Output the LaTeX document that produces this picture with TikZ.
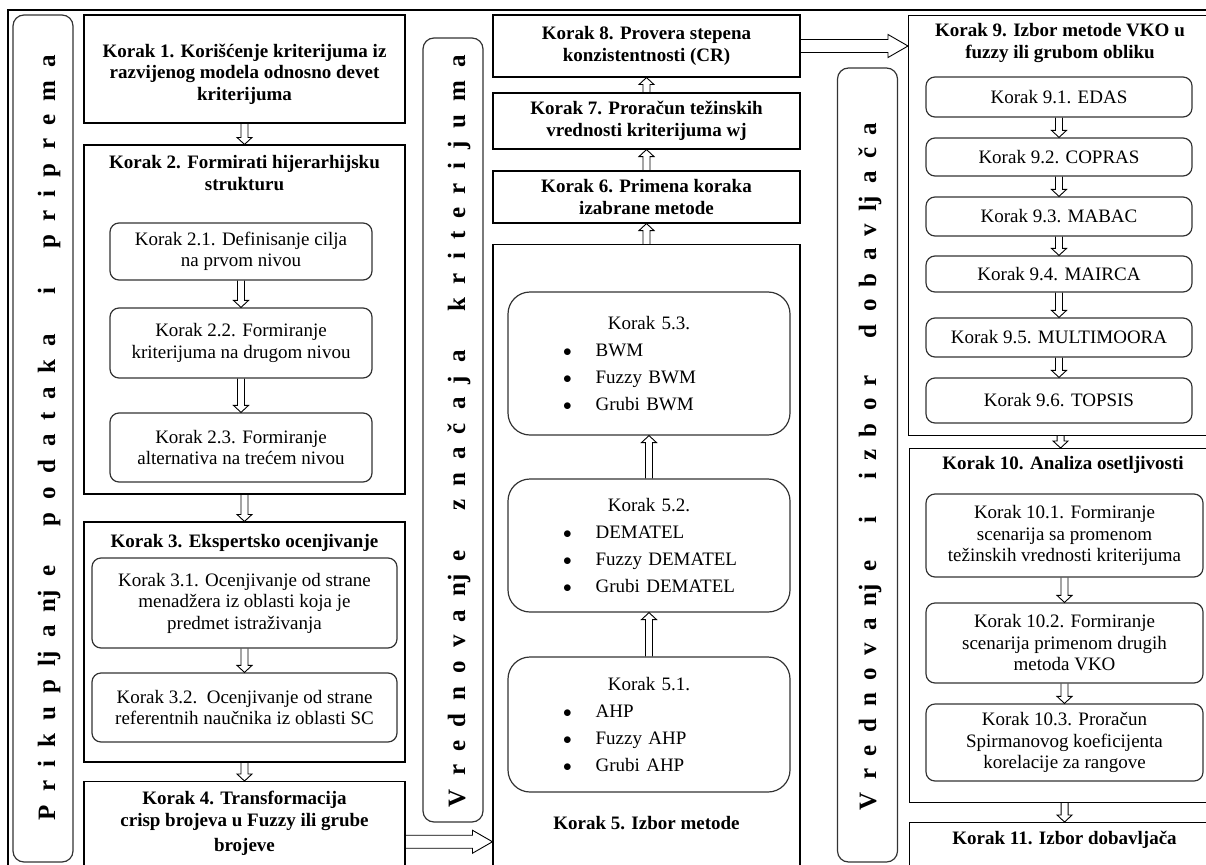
\documentclass[tikz,border=0pt]{standalone}
\usepackage{fontspec}
\setmainfont{Liberation Serif}
\usetikzlibrary{calc,positioning}
\newcommand{\lgap}{\hskip 0pt plus 1fil\relax}
\newcommand{\wgap}{\hskip 0pt plus 3fil\relax}
\newcommand{\spreadtext}[2]{\makebox[#1][s]{#2}}
\newcommand{\methodlist}[4]{{\centering #1\par}\leftskip=45pt\relax
  $\bullet$\hspace{24pt}#2\par$\bullet$\hspace{24pt}#3\par$\bullet$\hspace{24pt}#4\par}
\tikzset{
  blockarrow/.style n args={3}{draw,line width=0.9pt,to path={
    let \p1=(\tikztostart),\p2=(\tikztotarget),
        \n1={atan2(\y2-\y1,\x2-\x1)},\n2={veclen(\x2-\x1,\y2-\y1)-#3} in
    ([shift={(\p1)},rotate=\n1]0pt,-#1) -- ([shift={(\p1)},rotate=\n1]\n2,-#1)
    -- ([shift={(\p1)},rotate=\n1]\n2,-#2) -- (\p2)
    -- ([shift={(\p1)},rotate=\n1]\n2,#2) -- ([shift={(\p1)},rotate=\n1]\n2,#1)
    -- ([shift={(\p1)},rotate=\n1]0pt,#1)}},
  hollow/.style={blockarrow={3.5pt}{7.5pt}{7pt}},
  bighollow/.style={blockarrow={6.5pt}{11.5pt}{20pt}}
}

\begin{document}
\begin{tikzpicture}[x=1pt,y=-1pt,
    every node/.style={font=\fontsize{19}{21.5}\selectfont,align=center},
    kbox/.style={draw,line width=1.1pt,inner sep=3pt,
                 font=\fontsize{19}{21.5}\selectfont\bfseries},
    ktitle/.style={font=\fontsize{19}{21.5}\selectfont\bfseries},
    subbox/.style={draw=black!80,line width=1.2pt,rounded corners=9pt,inner sep=2pt},
    mbox/.style={subbox,rounded corners=22pt,align=left,text width=262pt,
                 inner xsep=10pt,font=\fontsize{19}{27}\selectfont},
    sidebox/.style={draw=black!80,line width=1.2pt,rounded corners=11pt,
                    minimum width=60pt},
    sidetext/.style={rotate=90,inner sep=0pt,text height=12pt,text depth=0pt,
                     font=\fontsize{25}{25}\selectfont\bfseries}
]
\useasboundingbox (0,0) rectangle (1206,864);
\clip (0,0) rectangle (1206,864);
\draw[line width=1.5pt] (8,10) rectangle (1240,900);

% first column
\node[sidebox,minimum height=847pt] (prepbox) at (43,438.5) {};
\node[sidetext] (prep) at (49,437.5) {\spreadtext{765pt}{P\lgap r\lgap i\lgap k\lgap u\lgap p\lgap lj\lgap a\lgap nj\lgap e\wgap p\lgap o\lgap d\lgap a\lgap t\lgap a\lgap k\lgap a\wgap i\wgap p\lgap r\lgap i\lgap p\lgap r\lgap e\lgap m\lgap a}};

\node[kbox,minimum width=321pt,minimum height=108pt] (k1) at (244.5,69) {\rule{0pt}{24pt}Korak 1. Korišćenje kriterijuma iz\\razvijenog modela odnosno devet\\kriterijuma};
\node[kbox,minimum width=321pt,minimum height=349pt] (k2) at (244.5,319.5) {};
\node[ktitle] (k2t) at (244.5,173) {Korak 2. Formirati hijerarhijsku\\strukturu};
\node[subbox,minimum width=262pt,minimum height=57pt] (k21) at (241,251.5) {Korak 2.1. Definisanje cilja\\na prvom nivou};
\node[subbox,minimum width=262pt,minimum height=70pt] (k22) at (241,343) {Korak 2.2. Formiranje\\kriterijuma na drugom nivou};
\node[subbox,minimum width=262pt,minimum height=69pt] (k23) at (241,447.5) {Korak 2.3. Formiranje\\alternativa na trećem nivou};
\node[kbox,minimum width=321pt,minimum height=240pt] (k3) at (244.5,642) {};
\node[ktitle] (k3t) at (244.5,543) {Korak 3. Ekspertsko ocenjivanje};
\node[subbox,minimum width=305pt,minimum height=90pt] (k31) at (244.5,603) {Korak 3.1. Ocenjivanje od strane\\menadžera iz oblasti koja je\\predmet istraživanja};
\node[subbox,minimum width=305pt,minimum height=69pt] (k32) at (244.5,707.5) {Korak 3.2.\ \ Ocenjivanje od strane\\referentnih naučnika iz oblasti SC};
\node[kbox,minimum width=321pt,anchor=north,inner ysep=10pt,text depth=40pt] (k4) at (244.5,781) {Korak 4. Transformacija\\crisp brojeva u Fuzzy ili grube\\[4pt]brojeve};

% second column
\node[sidebox,minimum height=784pt] (critbox) at (453,430) {};
\node[sidetext] (crit) at (459,431) {\spreadtext{752pt}{V\lgap r\lgap e\lgap d\lgap n\lgap o\lgap v\lgap a\lgap nj\lgap e\wgap z\lgap n\lgap a\lgap č\lgap a\lgap j\lgap a\wgap k\lgap r\lgap i\lgap t\lgap e\lgap r\lgap i\lgap j\lgap u\lgap m\lgap a}};

\node[kbox,minimum width=307pt,minimum height=62pt] (k8) at (646.5,46) {Korak 8. Provera stepena\\konzistentnosti (CR)};
\node[kbox,minimum width=307pt,minimum height=56pt] (k7) at (646.5,121) {Korak 7. Proračun težinskih\\vrednosti kriterijuma wj};
\node[kbox,minimum width=307pt,minimum height=52pt] (k6) at (646.5,197) {Korak 6. Primena koraka\\izabrane metode};
\node[kbox,minimum width=307pt,minimum height=660pt,anchor=north] (k5) at (646.5,244) {};
\node[ktitle] (k5t) at (646.5,823) {Korak 5. Izbor metode};
\node[mbox,minimum height=143pt] (k53) at (649,363.5) {\methodlist{Korak 5.3.}{BWM}{Fuzzy BWM}{Grubi BWM}};
\node[mbox,minimum height=133pt] (k52) at (649,545.5) {\methodlist{Korak 5.2.}{DEMATEL}{Fuzzy DEMATEL}{Grubi DEMATEL}};
\node[mbox,minimum height=135pt] (k51) at (649,724.5) {\methodlist{Korak 5.1.}{AHP}{Fuzzy AHP}{Grubi AHP}};

% third column
\node[sidebox,minimum height=794pt] (selbox) at (867.5,465) {};
\node[sidetext] (sel) at (870,466.5) {\spreadtext{687pt}{V\lgap r\lgap e\lgap d\lgap n\lgap o\lgap v\lgap a\lgap nj\lgap e\wgap i\wgap i\lgap z\lgap b\lgap o\lgap r\wgap d\lgap o\lgap b\lgap a\lgap v\lgap lj\lgap a\lgap č\lgap a}};

\node[kbox,minimum width=304pt,minimum height=420pt,anchor=north west] (k9) at (908,15) {};
\node[ktitle] (k9t) at (1060,43) {Korak 9. Izbor metode VKO u\\fuzzy ili grubom obliku};
\node[subbox,minimum width=266pt,minimum height=40pt] (k91) at (1059,97) {Korak 9.1. EDAS};
\node[subbox,minimum width=266pt,minimum height=38pt] (k92) at (1059,157) {Korak 9.2. COPRAS};
\node[subbox,minimum width=266pt,minimum height=39pt] (k93) at (1059,216.5) {Korak 9.3. MABAC};
\node[subbox,minimum width=266pt,minimum height=36pt] (k94) at (1059,274) {Korak 9.4. MAIRCA};
\node[subbox,minimum width=266pt,minimum height=39pt] (k95) at (1059,337.5) {Korak 9.5. MULTIMOORA};
\node[subbox,minimum width=266pt,minimum height=45pt] (k96) at (1059,400.5) {Korak 9.6. TOPSIS};
\node[kbox,minimum width=310pt,minimum height=354pt,anchor=north west] (k10) at (909,448) {};
\node[ktitle] (k10t) at (1063,465) {Korak 10. Analiza osetljivosti};
\node[subbox,minimum width=277pt,minimum height=83pt] (k101) at (1064.5,535.5) {Korak 10.1. Formiranje\\scenarija sa promenom\\težinskih vrednosti kriterijuma};
\node[subbox,minimum width=277pt,minimum height=80pt] (k102) at (1064.5,643) {Korak 10.2. Formiranje\\scenarija primenom drugih\\metoda VKO};
\node[subbox,minimum width=277pt,minimum height=77pt] (k103) at (1064.5,742.5) {Korak 10.3. Proračun\\Spirmanovog koeficijenta\\korelacije za rangove};
\node[kbox,minimum width=310pt,anchor=north west,inner ysep=9pt,text depth=40pt] (k11) at (909,822) {Korak 11. Izbor dobavljača};

% arrows
\draw[hollow] (k1.south) to (k2.north);
\draw[hollow] (k21.south) to (k22.north);
\draw[hollow] (k22.south) to (k23.north);
\draw[hollow] (k2.south) to (k3.north);
\draw[hollow] (k31.south) to (k32.north);
\draw[hollow] (k3.south) to (k4.north);
\draw[bighollow] (k4.east) to (k4.east -| k5.west);
\draw[hollow] (k51.north) to (k52.south);
\draw[hollow] (k52.north) to (k53.south);
\draw[hollow] (k5.north) to (k6.south);
\draw[hollow] (k6.north) to (k7.south);
\draw[hollow] (k7.north) to (k8.south);
\draw[bighollow] (k8.east) to (k8.east -| k9.west);
\draw[hollow] (k91.south) to (k92.north);
\draw[hollow] (k92.south) to (k93.north);
\draw[hollow] (k93.south) to (k94.north);
\draw[hollow] (k94.south) to (k95.north);
\draw[hollow] (k95.south) to (k96.north);
\draw[hollow] (k9.south) to (k9.south |- k10.north);
\draw[hollow] (k101.south) to (k102.north);
\draw[hollow] (k102.south) to (k103.north);
\draw[hollow] (k10.south) to (k10.south |- k11.north);
\end{tikzpicture}
\end{document}
